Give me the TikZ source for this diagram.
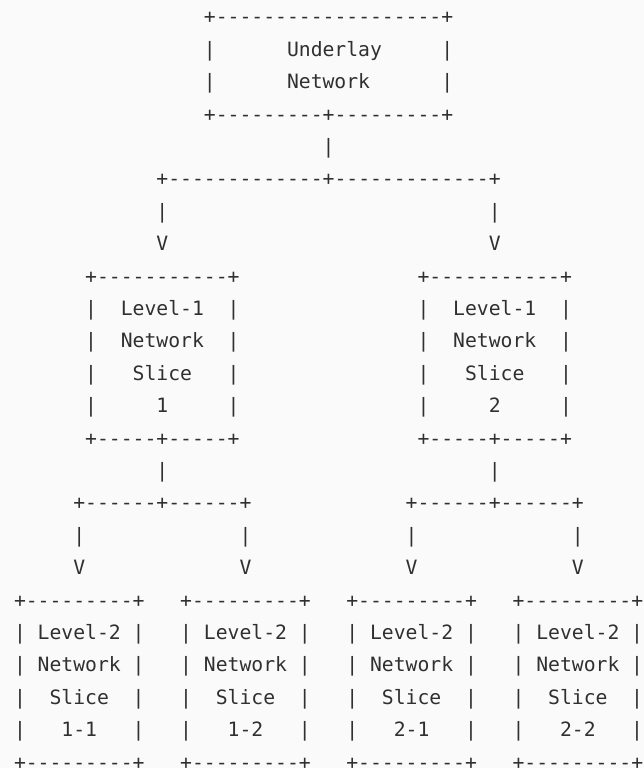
\documentclass[tikz,border=0pt]{standalone}
\usepackage{fontspec}
\newfontfamily\asciimono{DejaVu Sans Mono}[Ligatures=TeXOff]
\definecolor{ink}{HTML}{303030}
\definecolor{paper}{HTML}{FAFAFA}
\tikzset{
  ch/.style={anchor=base west, inner sep=0pt, outer sep=0pt, text=ink,
    font=\asciimono\fontsize{19.72}{20}\selectfont}
}
% place text at grid column #2, row #3
\newcommand\asc[4]{\node[ch] (#1) at ({14+11.87*(#2)},{744-32.4*(#3)}) {#4};}
\begin{document}
\begin{tikzpicture}[x=1pt,y=1pt]
\fill[paper] (0,0) rectangle (644,768);
\useasboundingbox (0,0) rectangle (644,768);
% Underlay network box
\asc{u0}{16}{0}{+-------------------+}
\asc{u1l}{16}{1}{|}\asc{u1t}{23}{1}{Underlay}\asc{u1r}{36}{1}{|}
\asc{u2l}{16}{2}{|}\asc{u2t}{23}{2}{Network}\asc{u2r}{36}{2}{|}
\asc{u3}{16}{3}{+---------+---------+}
% split to level 1
\asc{c4}{26}{4}{|}
\asc{c5}{12}{5}{+-------------+-------------+}
\asc{c6a}{12}{6}{|}\asc{c6b}{40}{6}{|}
\asc{c7a}{12}{7}{V}\asc{c7b}{40}{7}{V}
% level 1 boxes
\foreach \o/\n [count=\i] in {6/1,34/2}{
  \asc{a\i r8}{\o}{8}{+-----------+}
  \asc{a\i r9l}{\o}{9}{|}\asc{a\i r9t}{\o+3}{9}{Level-1}\asc{a\i r9r}{\o+12}{9}{|}
  \asc{a\i r10l}{\o}{10}{|}\asc{a\i r10t}{\o+3}{10}{Network}\asc{a\i r10r}{\o+12}{10}{|}
  \asc{a\i r11l}{\o}{11}{|}\asc{a\i r11t}{\o+4}{11}{Slice}\asc{a\i r11r}{\o+12}{11}{|}
  \asc{a\i r12l}{\o}{12}{|}\asc{a\i r12t}{\o+6}{12}{\n}\asc{a\i r12r}{\o+12}{12}{|}
  \asc{a\i r13}{\o}{13}{+-----+-----+}
  \asc{a\i r14}{\o+6}{14}{|}
  \asc{a\i r15}{\o-1}{15}{+------+------+}
  \asc{a\i r16a}{\o-1}{16}{|}\asc{a\i r16b}{\o+13}{16}{|}
  \asc{a\i r17a}{\o-1}{17}{V}\asc{a\i r17b}{\o+13}{17}{V}
}
% level 2 boxes
\foreach \o/\n [count=\i] in {0/1-1,14/1-2,28/2-1,42/2-2}{
  \asc{b\i r18}{\o}{18}{+---------+}
  \asc{b\i r19l}{\o}{19}{|}\asc{b\i r19t}{\o+2}{19}{Level-2}\asc{b\i r19r}{\o+10}{19}{|}
  \asc{b\i r20l}{\o}{20}{|}\asc{b\i r20t}{\o+2}{20}{Network}\asc{b\i r20r}{\o+10}{20}{|}
  \asc{b\i r21l}{\o}{21}{|}\asc{b\i r21t}{\o+3}{21}{Slice}\asc{b\i r21r}{\o+10}{21}{|}
  \asc{b\i r22l}{\o}{22}{|}\asc{b\i r22t}{\o+4}{22}{\n}\asc{b\i r22r}{\o+10}{22}{|}
  \asc{b\i r23}{\o}{23}{+---------+}
}
\end{tikzpicture}
\end{document}
